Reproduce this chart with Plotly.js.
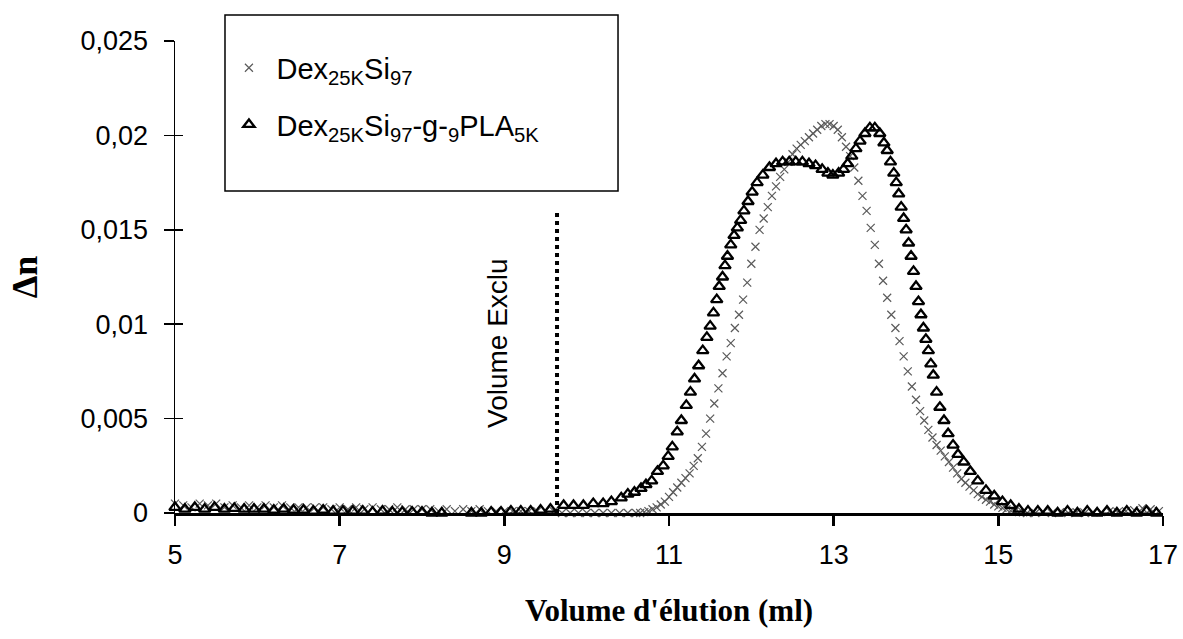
<!DOCTYPE html>
<html>
<head>
<meta charset="utf-8">
<script src="https://cdn.plot.ly/plotly-3.0.1.min.js"></script>
<style>html,body{margin:0;padding:0;background:#fff;}#chart{width:1183px;height:639px;}</style>
</head>
<body>
<div id="chart"></div>
<script>
// ---- data ----
var seriesNames = ["Dex<sub>25K</sub>Si<sub>97</sub>", "Dex<sub>25K</sub>Si<sub>97</sub>-g-<sub>9</sub>PLA<sub>5K</sub>"];

var crossX = [5.0,5.1,5.2,5.3,5.4,5.5,5.6,5.7,5.8,5.9,6.0,6.1,6.2,6.3,6.4,6.5,6.6,6.7,6.8,6.9,7.0,7.1,7.2,7.3,7.4,7.5,7.6,7.7,7.8,7.9,8.0,8.1,8.2,8.3,8.4,8.5,8.6,8.7,8.8,8.9,9.0,9.1,9.2,9.3,9.4,9.5,9.6,9.7,9.8,9.9,10.0,10.1,10.2,10.3,10.4,10.5,10.6,
  10.65,10.70,10.75,10.80,10.85,10.90,10.95,11.00,11.05,11.10,11.15,11.20,11.25,11.30,11.35,11.40,11.45,11.50,11.55,11.60,11.65,11.70,11.75,11.80,11.85,11.90,11.95,12.00,12.05,12.10,12.15,12.20,12.25,12.30,12.35,12.40,12.45,12.50,12.55,12.60,12.65,12.70,12.75,12.80,12.85,12.90,12.95,13.00,13.05,13.10,13.15,13.20,13.25,13.30,13.35,13.40,13.45,13.50,13.55,13.60,13.65,13.70,13.75,13.80,13.85,13.90,13.95,14.00,14.05,14.10,14.15,14.20,14.25,14.30,14.35,14.40,14.45,14.50,14.55,14.60,14.65,14.70,14.75,14.80,14.85,14.90,14.95,15.00,15.05,15.10,15.15,15.20,15.25,15.30,15.35,
  15.45,15.55,15.65,15.75,15.85,15.95,16.05,16.15,16.25,16.35,16.45,16.55,16.65,16.75,16.85,16.95];
var crossY = [0.0005,0.0004,0.0003,0.0005,0.0004,0.0005,0.0003,0.0004,0.0003,0.0004,0.0003,0.0004,0.0003,0.0004,0.0003,0.0003,0.0003,0.0003,0.0003,0.0002,0.0003,0.0002,0.0003,0.0002,0.0003,0.0002,0.0002,0.0003,0.0002,0.0002,0.0002,0.0002,0.0001,0.0002,0.0001,0.0002,0.0001,0.0002,0.0001,0.0001,0.0001,0.0001,0.0001,0.0001,0.0001,0.0001,0.0001,0.0,0.0,0.0,0.0,0.0,0.0,0.0,0.0,0.0,0.0,
  0.0,0.00005,0.0001,0.0002,0.0003,0.00045,0.0006,0.00085,0.0011,0.00135,0.0016,0.00185,0.0021,0.0025,0.0029,0.0035,0.0042,0.0050,0.0058,0.0066,0.0074,0.0083,0.0090,0.0098,0.0105,0.0113,0.0122,0.0132,0.0141,0.0150,0.0156,0.0162,0.0168,0.0173,0.0178,0.0182,0.0186,0.0190,0.0193,0.0195,0.0197,0.0199,0.0201,0.0203,0.0205,0.0206,0.0206,0.0205,0.0203,0.0199,0.0194,0.0189,0.0183,0.0176,0.0168,0.0160,0.0151,0.0142,0.0132,0.0123,0.0114,0.0105,0.0098,0.0091,0.0083,0.0075,0.0067,0.0060,0.0054,0.0049,0.0044,0.0040,0.0036,0.0033,0.0030,0.0027,0.0024,0.0021,0.0018,0.0016,0.0014,0.0012,0.0010,0.00085,0.0007,0.0006,0.00045,0.00035,0.00027,0.0002,0.00012,0.00008,0.00005,0.00003,0.0,
  0.0,0.00005,0.0,0.00005,0.0,0.00005,0.0,0.00005,0.00005,0.0001,0.00005,0.0001,0.00015,0.00025,0.0002,0.0001];

var triX = [5.00,5.12,5.24,5.36,5.48,5.60,5.72,5.84,5.96,6.08,6.20,6.32,6.44,6.56,6.68,6.80,6.92,7.04,7.16,7.28,7.40,7.52,7.64,7.76,7.88,8.00,8.12,8.24,8.36,8.48,8.60,8.72,8.84,8.96,9.08,9.20,9.32,9.44,9.56,
  9.72,9.84,9.96,10.08,10.20,10.30,10.42,10.50,10.58,10.66,10.72,10.79,10.86,10.93,10.99,11.04,11.10,11.15,11.21,11.26,11.31,11.36,11.41,11.46,11.50,11.54,11.58,11.61,11.65,11.68,11.71,11.75,11.79,11.83,11.87,11.91,11.96,12.01,12.07,12.14,12.22,12.30,12.38,12.46,12.54,12.62,12.70,12.78,12.86,12.93,12.99,13.06,13.12,13.17,13.22,13.27,13.32,13.38,13.44,13.50,13.56,13.61,13.65,13.69,13.73,13.76,13.79,13.82,13.85,13.88,13.91,13.94,13.97,14.00,14.03,14.06,14.09,14.12,14.15,14.18,14.21,14.25,14.29,14.34,14.39,14.45,14.51,14.58,14.66,14.75,14.85,14.95,15.05,15.15,15.25,15.36,15.48,
  15.60,15.72,15.84,15.96,16.08,16.20,16.32,16.44,16.56,16.68,16.80,16.92];
var triY = [0.0003,0.0002,0.0003,0.0002,0.0003,0.0002,0.00025,0.0002,0.0002,0.0002,0.00015,0.0002,0.00015,0.00015,0.0001,0.00015,0.0001,0.0001,0.0001,0.0001,0.00005,0.0001,0.00005,0.00005,0.00005,0.00005,0.0,0.0,-0.00005,-0.00005,0.0,0.0,0.00005,0.00005,0.0001,0.0001,0.0001,0.00015,0.0002,
  0.0004,0.0004,0.0004,0.0005,0.0005,0.0006,0.0008,0.0010,0.0011,0.0013,0.0015,0.0017,0.0022,0.0025,0.0030,0.0035,0.0043,0.0049,0.0057,0.0064,0.0071,0.0078,0.0086,0.0093,0.0099,0.0106,0.0113,0.0120,0.0125,0.0131,0.0136,0.0142,0.0147,0.0151,0.0155,0.0160,0.0165,0.0170,0.0175,0.0179,0.0183,0.0185,0.0186,0.0186,0.0186,0.0186,0.0185,0.0184,0.0182,0.0180,0.0179,0.0180,0.0182,0.0185,0.0189,0.0193,0.0197,0.0201,0.0204,0.0204,0.0201,0.0196,0.0192,0.0186,0.0180,0.0175,0.0169,0.0162,0.0156,0.0150,0.0143,0.0136,0.0128,0.0120,0.0112,0.0105,0.0098,0.0092,0.0086,0.0079,0.0073,0.0064,0.0056,0.0049,0.0042,0.0036,0.0031,0.0027,0.0022,0.0017,0.0012,0.0009,0.0006,0.0004,0.0002,0.0001,0.0001,
  0.0001,0.0,0.0001,0.0,0.0001,0.0,0.0001,0.0,0.0001,0.0,0.0001,0.0];

var excludedVolume = [9.64, 9.64];
var excludedRange = [0, 0.0159];
var excludedLabel = "Volume Exclu";

var yTickVals = [0, 0.005, 0.01, 0.015, 0.02, 0.025];
var yTickText = ["0", "0,005", "0,01", "0,015", "0,02", "0,025"];
var xTickVals = [5, 7, 9, 11, 13, 15, 17];
var xTitle = "Volume d'élution (ml)";
var yTitle = "Δn";

// ---- chart ----
var sans = "Liberation Sans, Arial, sans-serif";
var serif = "Liberation Serif, Times New Roman, serif";

var traces = [
  {x: crossX, y: crossY, type: "scatter", mode: "markers", name: seriesNames[0],
   legendgroup: "a", cliponaxis: false,
   marker: {symbol: "x-thin-open", size: 8, color: "#5a5a5a", line: {width: 1.2, color: "#5a5a5a"}}},
  {x: triX, y: triY, type: "scatter", mode: "markers", name: seriesNames[1],
   legendgroup: "b", cliponaxis: false,
   marker: {symbol: "triangle-up-open", size: 10, color: "#000", line: {width: 2.3, color: "#000"}}},
  {x: excludedVolume, y: excludedRange, type: "scatter", mode: "lines", showlegend: false,
   hoverinfo: "skip", line: {color: "#000", width: 4, dash: "dot"}},
  {x: [5], y: [0], yaxis: "y2", type: "scatter", mode: "markers", showlegend: false,
   hoverinfo: "skip", marker: {opacity: 0}}
];

var layout = {
  width: 1183, height: 639,
  paper_bgcolor: "#fff", plot_bgcolor: "#fff",
  margin: {l: 175, r: 20, t: 41, b: 126},
  separators: ",.",
  font: {family: sans, size: 27, color: "#000"},
  showlegend: true,
  legend: {x: 0.047, y: 0.997, xanchor: "left", yanchor: "top",
           bgcolor: "rgba(0,0,0,0)", borderwidth: 0,
           font: {family: sans, size: 29, color: "#000"},
           tracegroupgap: 16, itemsizing: "trace", itemwidth: 45},
  xaxis: {range: [5, 17], tickvals: xTickVals, ticks: "outside", ticklen: 10, tickwidth: 2.5,
          tickcolor: "#000", showline: true, linecolor: "#000", linewidth: 3,
          showgrid: false, zeroline: false, ticklabelstandoff: 6,
          tickfont: {family: sans, size: 27, color: "#000"},
          title: {text: xTitle, font: {family: serif, size: 31, color: "#000", weight: "bold"}, standoff: 30}},
  yaxis: {range: [0, 0.025], tickvals: yTickVals, ticktext: yTickText, ticks: "outside", ticklen: 10,
          tickwidth: 1.5, tickcolor: "#000", showline: true, linecolor: "#000", linewidth: 1.5,
          showgrid: false, zeroline: false, ticklabelstandoff: 10,
          tickfont: {family: sans, size: 27, color: "#000"},
          title: {text: yTitle, font: {family: serif, size: 36, color: "#000", weight: "bold"}, standoff: 32}},
  yaxis2: {range: [0, 0.025], overlaying: "y", side: "left", anchor: "x", tickvals: yTickVals,
           ticks: "inside", ticklen: 8, tickwidth: 1.5, tickcolor: "#000", showticklabels: false,
           showgrid: false, zeroline: false, showline: false},
  shapes: [
    {type: "rect", xref: "paper", yref: "paper", x0: 0.0506, x1: 0.4484, y0: 0.682, y1: 1.055,
     line: {color: "#000", width: 1.5}, fillcolor: "rgba(0,0,0,0)"}
  ],
  annotations: [
    {x: 8.91, y: 0.009, xref: "x", yref: "y", text: excludedLabel, showarrow: false, textangle: -90,
     font: {family: sans, size: 28, color: "#000"}}
  ]
};

Plotly.newPlot("chart", traces, layout, {displayModeBar: false, staticPlot: true});
</script>
</body>
</html>
